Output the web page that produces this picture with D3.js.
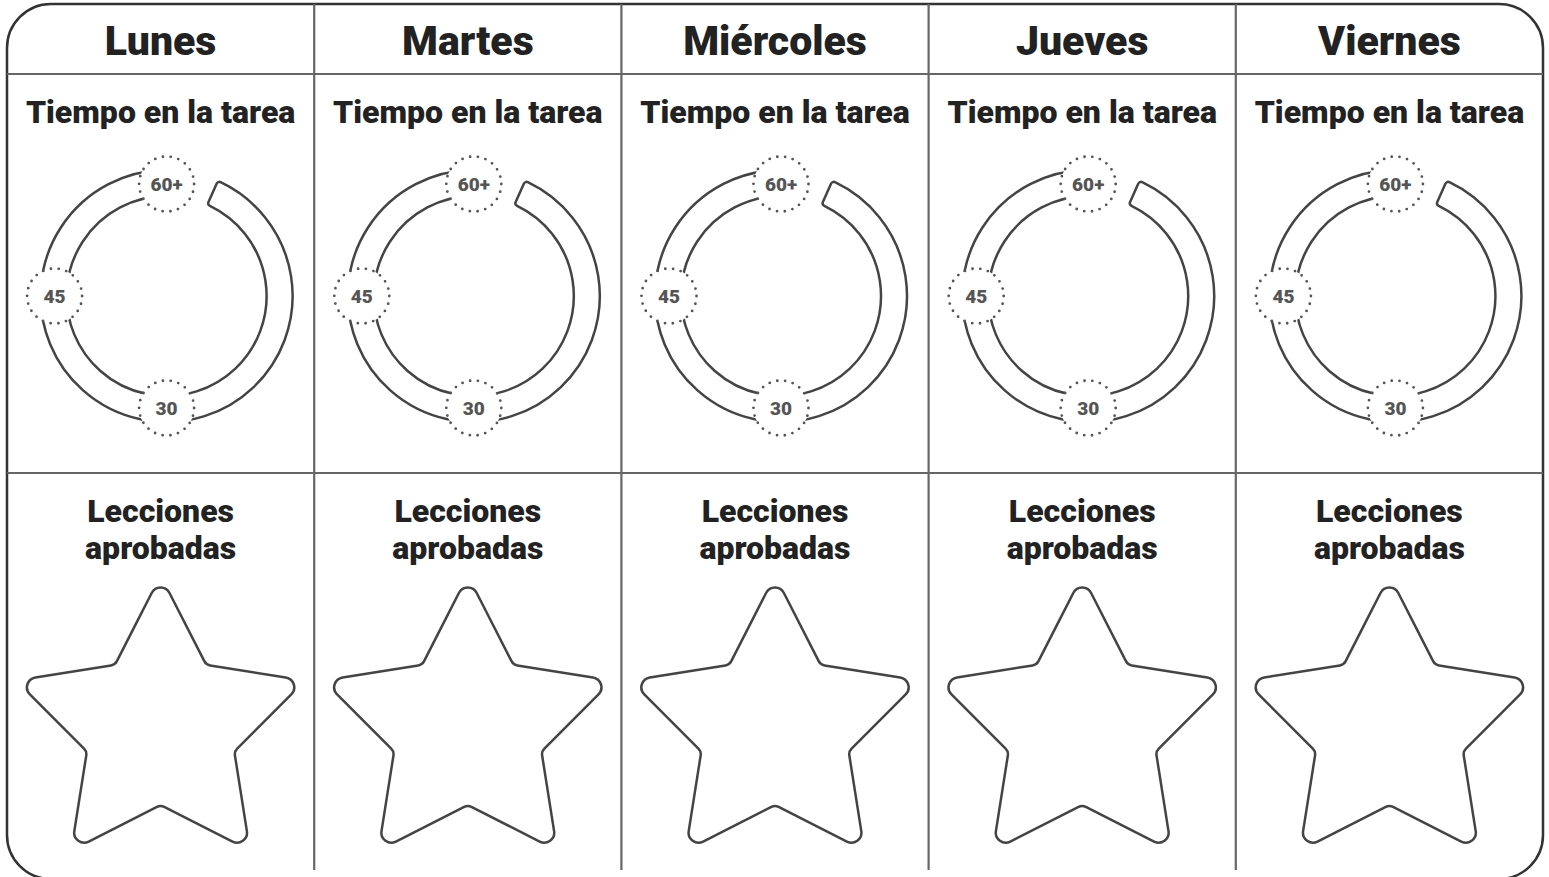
<!DOCTYPE html>
<html>
<head>
<meta charset="utf-8">
<script src="https://cdn.jsdelivr.net/npm/d3@7"></script>
<style>
  html, body { margin: 0; padding: 0; background: #fff; }
  svg { display: block; }
  text { font-family: Roboto, "Noto Sans", sans-serif; font-weight: 900; }
</style>
</head>
<body>
<svg id="chart" width="1549" height="877"></svg>
<script>
// ---- data ----
const days = ["Lunes", "Martes", "Miércoles", "Jueves", "Viernes"];
const timeTitle = ["Tiempo en la tarea"];
const lessonTitle = ["Lecciones", "aprobadas"];
const ringTickLabels = ["60+", "45", "30"];
const ringTickMinutes = [60, 45, 30];
const ringRange = [4, 60];          // arc runs from 4 min to 60 min
const minuteDomain = [0, 60];
const starPoints = 5;

// ---- layout ----
const boxLeft = 7, boxRight = 1543, boxTop = 4, boxBottom = 879;
const headerLineY = 74, midLineY = 473, dividerBottom = 870;

const svg = d3.select("#chart");

const x = d3.scaleBand().domain(days).range([boxLeft, boxRight]);
const angle = d3.scaleLinear().domain(minuteDomain).range([0, 2 * Math.PI]);

// outer rounded border
svg.append("rect")
  .attr("x", boxLeft).attr("y", boxTop)
  .attr("width", boxRight - boxLeft).attr("height", boxBottom - boxTop)
  .attr("rx", 44).attr("ry", 44)
  .attr("fill", "#fff").attr("stroke", "#333").attr("stroke-width", 2.5);

// horizontal lines
[headerLineY, midLineY].forEach(y => {
  svg.append("line")
    .attr("x1", boxLeft).attr("x2", boxRight).attr("y1", y).attr("y2", y)
    .attr("stroke", "#666").attr("stroke-width", 2.2);
});

// vertical dividers
svg.selectAll("line.div").data(days.slice(1)).join("line")
  .attr("class", "div")
  .attr("x1", d => x(d)).attr("x2", d => x(d))
  .attr("y1", boxTop).attr("y2", dividerBottom)
  .attr("stroke", "#666").attr("stroke-width", 2.2);

const col = svg.selectAll("g.col").data(days).join("g")
  .attr("class", "col")
  .attr("transform", d => `translate(${x(d) + x.bandwidth() / 2},0)`);

// day header
col.append("text")
  .attr("y", 55).attr("text-anchor", "middle")
  .attr("font-size", 41).attr("fill", "#222")
  .text(d => d);

// time title
col.append("text")
  .attr("y", 123).attr("text-anchor", "middle")
  .attr("font-size", 32).attr("fill", "#222")
  .text(timeTitle[0]);

// ring gauge
const ringG = col.append("g").attr("transform", "translate(6,296)");
const arc = d3.arc()
  .innerRadius(100).outerRadius(126)
  .startAngle(angle(ringRange[0])).endAngle(angle(ringRange[1]))
  .cornerRadius(3);
ringG.append("path")
  .attr("d", arc())
  .attr("fill", "#fff").attr("stroke", "#444").attr("stroke-width", 2.5)
  .attr("stroke-linejoin", "round");

const labelR = 112, bubbleR = 27.5;
const dotGap = (2 * Math.PI * bubbleR) / 22;
ringTickMinutes.forEach((m, i) => {
  const [px, py] = d3.pointRadial(angle(m), labelR);
  const g = ringG.append("g").attr("transform", `translate(${px},${py})`);
  g.append("circle").attr("r", bubbleR)
    .attr("fill", "#fff").attr("stroke", "#555").attr("stroke-width", 2.8)
    .attr("stroke-linecap", "round")
    .attr("stroke-dasharray", `0 ${dotGap}`);
  g.append("text")
    .attr("text-anchor", "middle").attr("dy", "0.36em")
    .attr("font-size", 19).attr("fill", "#555")
    .text(ringTickLabels[i]);
});

// lessons title
lessonTitle.forEach((t, i) => {
  col.append("text")
    .attr("y", 522 + i * 37).attr("text-anchor", "middle")
    .attr("font-size", 32).attr("fill", "#222")
    .text(t);
});

// rounded star
const outerR = 152, innerR = 77.5, outerCorner = 10, innerCorner = 8;
const starAngle = d3.scaleLinear().domain([0, 2 * starPoints]).range([0, 2 * Math.PI]);
const verts = d3.range(2 * starPoints).map(i => {
  const r = i % 2 === 0 ? outerR : innerR;
  const p = d3.pointRadial(starAngle(i), r);
  return { x: p[0], y: p[1], c: i % 2 === 0 ? outerCorner : innerCorner };
});
function starPath() {
  const p = d3.path();
  const n = verts.length;
  const last = verts[n - 1], first = verts[0];
  p.moveTo((last.x + first.x) / 2, (last.y + first.y) / 2);
  for (let i = 0; i < n; i++) {
    const v = verts[i], nx = verts[(i + 1) % n];
    p.arcTo(v.x, v.y, nx.x, nx.y, v.c);
  }
  p.closePath();
  return p.toString();
}
col.append("path")
  .attr("transform", "translate(0,727.5)")
  .attr("d", starPath())
  .attr("fill", "none").attr("stroke", "#444").attr("stroke-width", 2.5)
  .attr("stroke-linejoin", "round");
</script>
</body>
</html>
